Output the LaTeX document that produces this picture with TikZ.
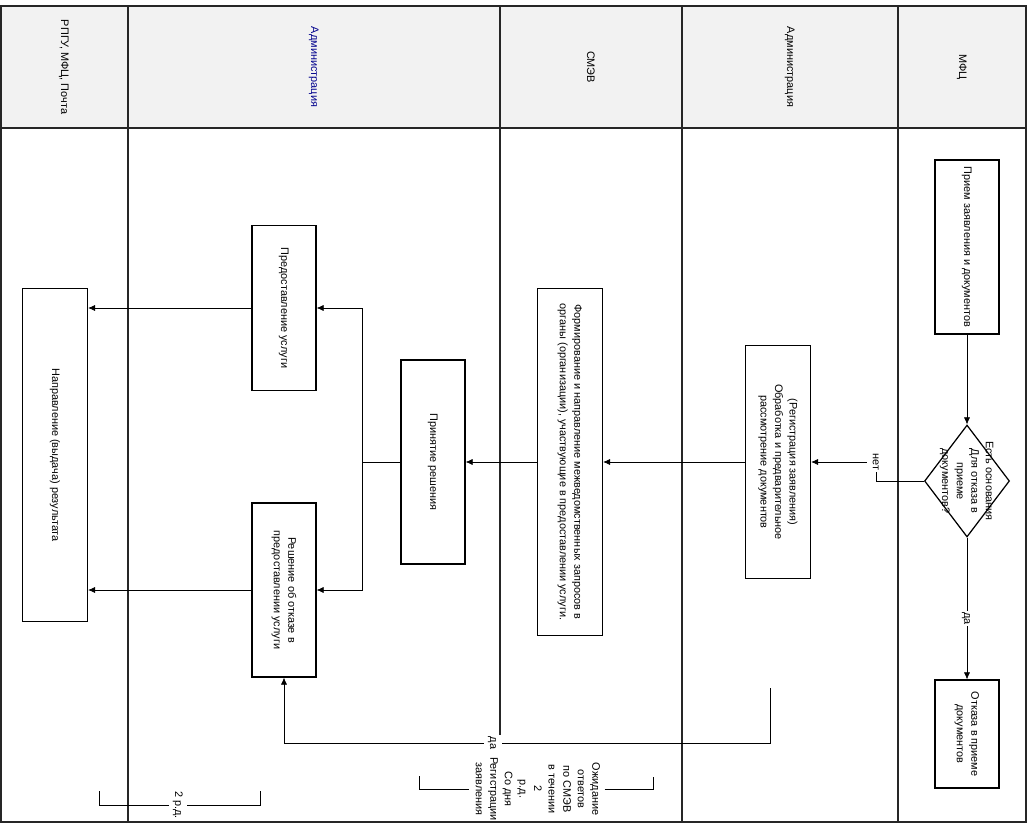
\documentclass[tikz,border=0pt]{standalone}
\usepackage{fontspec}
\setmainfont{Liberation Sans}
\usepackage{graphicx}
\usetikzlibrary{shapes.geometric, arrows.meta, positioning}

\newcommand{\vtext}[1]{\rotatebox{-90}{\begin{tabular}{@{}c@{}}#1\end{tabular}}}
\newcommand{\lanefont}{\fontsize{6.2}{8.3}\selectfont}

\begin{document}
\begin{tikzpicture}[x=0.02cm, y=-0.02cm,
        stepbox/.style={draw, line width=0.7pt, fill=white, inner sep=0pt, font=\lanefont},
        choice/.style={draw, diamond, line width=0.7pt, fill=white, inner sep=0pt, minimum width=1.7cm, minimum height=2.24cm},
        lanename/.style={font=\lanefont, inner sep=0pt},
        lbl/.style={fill=white, inner sep=0.8pt, font=\lanefont},
        note/.style={font=\lanefont, inner sep=1pt},
        lane/.style={line width=0.8pt, draw=black!85},
        >={Latex[length=4pt,width=3.5pt]}
    ]
        \path[fill=white, use as bounding box] (0,0) rectangle (1033,825);
        % Дорожки: шапка и разделители
        \fill[gray!10] (1,6) rectangle (1026,128);
        \draw[lane] (1,6) rectangle (1026,822);
        \draw[lane] (1,128) -- (1026,128);
        \foreach \x in {128,682,898} \draw[lane] (\x,6) -- (\x,822);
        \draw[lane] (500,6) -- (500,743);
        \node[lanename] (h1) at (64,67) {\vtext{РПГУ, МФЦ, Почта}};
        \node[lanename, text=blue!55!black] (h2) at (314,67) {\vtext{Администрация}};
        \node[lanename] (h3) at (590,67) {\vtext{СМЭВ}};
        \node[lanename] (h4) at (790,67) {\vtext{Администрация}};
        \node[lanename] (h5) at (962,67) {\vtext{МФЦ}};
        % Шаги процесса
        \node[stepbox, minimum width=1.28cm, minimum height=3.48cm] (recv) at (967,247) {\vtext{Прием заявления и документов}};
        \node[choice, label={[font=\lanefont]center:{\vtext{Есть основания\\Для отказа в\\приеме\\документов?}}}] (dec) at (967,481) {};
        \node[stepbox, minimum width=1.28cm, minimum height=2.16cm] (refuse) at (967,734) {\vtext{Отказа в приеме\\документов}};
        \node[stepbox, minimum width=1.3cm, minimum height=4.66cm] (reg) at (778,462) {\vtext{(Регистрация заявления)\\Обработка и предварительное\\рассмотрение документов}};
        \node[stepbox, minimum width=1.3cm, minimum height=6.94cm] (form) at (570,462) {\vtext{Формирование и направление межведомственных запросов в\\органы (организации), участвующие в предоставлении услуги.}};
        \node[stepbox, minimum width=1.28cm, minimum height=4.08cm] (decide) at (433,462) {\vtext{Принятие решения}};
        \node[stepbox, minimum width=1.28cm, minimum height=3.3cm] (grant) at (284,308) {\vtext{Предоставление услуги}};
        \node[stepbox, minimum width=1.28cm, minimum height=3.48cm] (deny) at (284,590) {\vtext{Решение об отказе в\\предоставлении услуги}};
        \node[stepbox, minimum width=1.3cm, minimum height=6.66cm] (result) at (55,455) {\vtext{Направление (выдача) результата}};
        \coordinate (regtail) at (770,688);
        % Связи
        \draw[->] (recv) -- (dec);
        \draw[->] (dec) -- node[lbl, pos=0.57] {\vtext{да}} (refuse);
        \draw[->] (dec.west) -- ++(-48,0) |- node[lbl, pos=0.5] {\vtext{нет}} (reg.east);
        \draw[->] (reg) -- (form);
        \draw[->] (form) -- (decide);
        \draw (decide.west) -- ++(-38,0) coordinate (split);
        \draw[->] (split) |- (grant.east);
        \draw[->] (split) |- (deny.east);
        \draw[->] (grant.west) -- (grant.west -| result.east);
        \draw[->] (deny.west) -- (deny.west -| result.east);
        \draw[->] (regtail) -- ++(0,55) -| node[lbl, pos=0.285] {\vtext{да}} (deny.south);
        % Сроки
        \node[note] (wait) at (537,789) {\vtext{Ожидание\\ответов\\по СМЭВ\\в течении\\2\\р.д.\\Со дня\\Регистрации\\заявления}};
        \draw (419,776) |- (wait.west);
        \draw (wait.east) -| (653,777);
        \node[note] (days) at (178,805) {\vtext{2 р.д.}};
        \draw (99,791) |- (days.west);
        \draw (days.east) -| (260,791);
    \end{tikzpicture}
\end{document}
